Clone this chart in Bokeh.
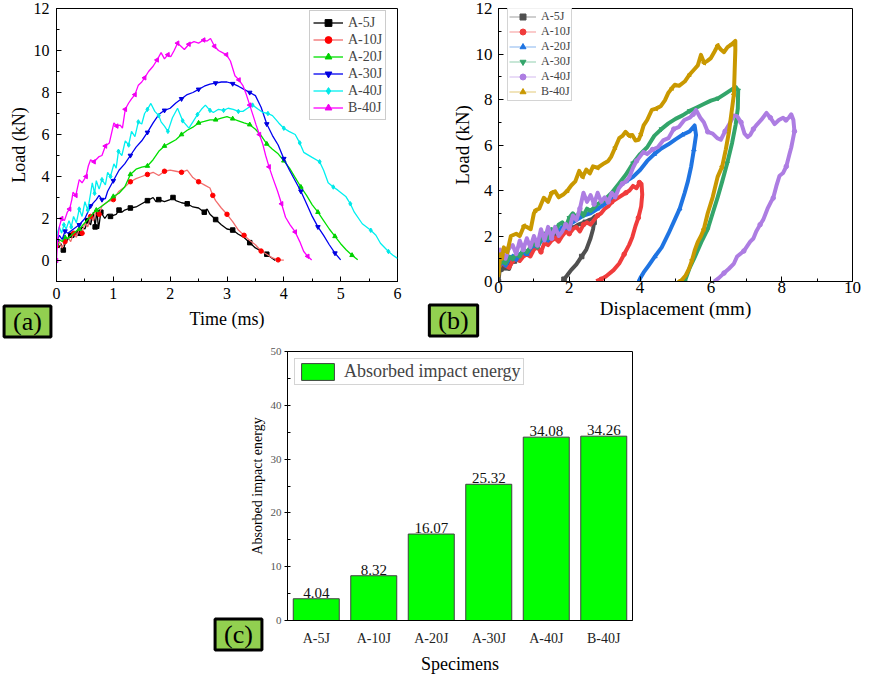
from bokeh.plotting import figure
from bokeh.models import Legend, LegendItem, Label, SingleIntervalTicker, FactorRange, Spacer
from bokeh.layouts import row, column
from bokeh.embed import file_html
from bokeh.resources import INLINE
from math import pi

FONT = "Liberation Serif"
TAG_FILL = "#92D050"

# ---- (a) load vs time ----
names = ["A-5J", "A-10J", "A-20J", "A-30J", "A-40J", "B-40J"]

time_5j = [0.0, 0.04, 0.08, 0.12, 0.16, 0.2, 0.25, 0.3, 0.35, 0.4,
           0.45, 0.5, 0.55, 0.6, 0.65, 0.68, 0.71, 0.74, 0.78, 0.85,
           0.9, 0.95, 1.0, 1.05, 1.1, 1.15, 1.2, 1.3, 1.4, 1.5,
           1.6, 1.7, 1.75, 1.8, 1.9, 2.0, 2.05, 2.1, 2.2, 2.3,
           2.4, 2.5, 2.6, 2.65, 2.7, 2.8, 2.9, 3.0, 3.1, 3.2,
           3.3, 3.4, 3.5, 3.6, 3.7, 3.8, 3.85]
load_5j = [0.9, 0.6, 0.8, 0.5, 0.9, 1.0, 1.2, 1.1, 1.4, 1.3,
           1.6, 1.5, 1.9, 1.7, 2.3, 1.6, 2.4, 1.5, 2.3, 2.0,
           2.2, 2.1, 2.15, 2.2, 2.4, 2.3, 2.4, 2.5, 2.55, 2.7,
           2.85, 3.0, 2.8, 2.9, 2.8, 2.9, 3.0, 2.85, 2.75, 2.7,
           2.55, 2.5, 2.3, 2.45, 2.2, 1.95, 1.7, 1.5, 1.45, 1.25,
           1.1, 0.85, 0.6, 0.45, 0.3, 0.1, 0.0]

time_10j = [0.0, 0.05, 0.1, 0.15, 0.2, 0.25, 0.3, 0.35, 0.4, 0.45,
            0.5, 0.55, 0.6, 0.65, 0.7, 0.75, 0.8, 0.9, 1.0, 1.1,
            1.2, 1.3, 1.4, 1.5, 1.6, 1.7, 1.8, 1.9, 2.0, 2.1,
            2.2, 2.3, 2.4, 2.5, 2.6, 2.7, 2.75, 2.8, 2.9, 3.0,
            3.1, 3.2, 3.3, 3.4, 3.5, 3.6, 3.7, 3.8, 3.9, 4.0]
load_10j = [0.7, 0.9, 0.6, 0.9, 1.1, 0.9, 1.3, 1.1, 1.5, 1.3,
            1.8, 1.6, 2.1, 1.9, 2.4, 2.2, 2.6, 2.8, 2.9, 3.3,
            3.5, 3.75, 3.9, 4.0, 4.1, 4.2, 4.05, 4.25, 4.3, 4.25,
            4.2, 4.3, 3.95, 3.75, 3.6, 3.45, 3.1, 2.85, 2.5, 2.2,
            1.85, 1.45, 1.2, 0.95, 0.75, 0.45, 0.3, 0.12, 0.03, 0.02]

time_20j = [0.0, 0.05, 0.1, 0.15, 0.2, 0.3, 0.4, 0.5, 0.6, 0.7,
            0.8, 0.9, 1.0, 1.1, 1.2, 1.3, 1.4, 1.5, 1.6, 1.7,
            1.8, 1.9, 2.0, 2.1, 2.2, 2.3, 2.4, 2.5, 2.6, 2.7,
            2.8, 2.9, 3.0, 3.1, 3.2, 3.3, 3.4, 3.5, 3.6, 3.7,
            3.8, 3.9, 4.0, 4.1, 4.2, 4.3, 4.4, 4.5, 4.6, 4.7,
            4.8, 4.9, 5.0, 5.1, 5.2, 5.3]
load_20j = [0.8, 1.0, 0.9, 1.1, 1.05, 1.3, 1.5, 1.8, 2.1, 2.4,
            2.6, 2.8, 3.05, 3.2, 3.5, 4.1, 4.35, 4.45, 4.5, 4.8,
            5.2, 5.45, 5.6, 5.75, 6.0, 6.2, 6.35, 6.55, 6.62, 6.7,
            6.7, 6.78, 6.85, 6.75, 6.65, 6.55, 6.47, 6.25, 5.95, 5.55,
            5.3, 5.08, 4.75, 4.4, 3.95, 3.5, 3.1, 2.65, 2.3, 1.9,
            1.5, 1.15, 0.8, 0.5, 0.25, 0.03]

time_30j = [0.0, 0.05, 0.1, 0.15, 0.2, 0.3, 0.4, 0.5, 0.55, 0.6,
            0.7, 0.75, 0.8, 0.86, 0.9, 1.0, 1.1, 1.2, 1.3, 1.4,
            1.5, 1.6, 1.7, 1.8, 1.9, 2.0, 2.1, 2.2, 2.3, 2.4,
            2.5, 2.6, 2.7, 2.8, 2.9, 3.0, 3.1, 3.2, 3.3, 3.4,
            3.5, 3.6, 3.7, 3.8, 3.9, 4.0, 4.1, 4.2, 4.3, 4.4,
            4.5, 4.6, 4.7, 4.8, 4.9, 5.0]
load_30j = [0.9, 1.2, 1.0, 1.4, 1.3, 1.5, 1.7, 2.0, 2.3, 2.6,
            2.9, 3.1, 2.9, 2.95, 3.3, 3.8, 4.3, 4.6, 5.0, 5.4,
            5.7, 6.1, 6.55, 6.95, 7.15, 7.25, 7.5, 7.7, 7.9, 8.0,
            8.15, 8.3, 8.4, 8.45, 8.5, 8.5, 8.42, 8.3, 8.15, 8.0,
            7.85, 7.3, 6.5, 5.95, 5.5, 4.85, 4.3, 3.8, 3.3, 2.7,
            2.1, 1.6, 1.2, 0.75, 0.35, 0.03]

time_40j = [0.0, 0.05, 0.09, 0.13, 0.17, 0.22, 0.26, 0.3, 0.35, 0.4,
            0.45, 0.5, 0.55, 0.6, 0.63, 0.67, 0.7, 0.75, 0.8, 0.86,
            0.9, 0.95, 1.01, 1.05, 1.09, 1.15, 1.21, 1.27, 1.32, 1.38,
            1.44, 1.5, 1.55, 1.6, 1.66, 1.73, 1.8, 1.84, 1.9, 1.96,
            2.04, 2.13, 2.22, 2.33, 2.4, 2.48, 2.55, 2.62, 2.7, 2.76,
            2.85, 2.94, 3.02, 3.11, 3.2, 3.28, 3.36, 3.45, 3.55, 3.63,
            3.72, 3.8, 3.91, 4.0, 4.09, 4.2, 4.28, 4.35, 4.49, 4.63,
            4.7, 4.78, 4.87, 4.95, 5.09, 5.17, 5.24, 5.38, 5.53, 5.62,
            5.7, 5.84, 5.92, 6.0]
load_40j = [1.2, 1.6, 1.3, 1.7, 1.5, 1.9, 1.6, 2.1, 1.8, 2.45,
            2.1, 2.8, 2.4, 3.2, 3.7, 3.2, 3.8, 3.4, 3.85, 3.6,
            4.2, 4.0, 4.6, 4.4, 5.2, 5.0, 5.7, 5.5, 6.15, 5.9,
            6.6, 6.5, 7.0, 7.2, 7.48, 7.1, 6.9, 6.6, 6.4, 6.15,
            6.8, 7.25, 6.65, 6.3, 6.6, 6.95, 7.2, 7.4, 7.15, 7.05,
            7.2, 7.15, 7.25, 7.2, 7.1, 7.1, 7.25, 7.4, 7.2, 7.05,
            7.0, 6.9, 6.55, 6.3, 6.15, 6.0, 5.6, 5.15, 4.92, 4.7,
            4.3, 3.7, 3.5, 3.35, 3.05, 2.7, 2.3, 1.75, 1.44, 1.2,
            0.82, 0.43, 0.25, 0.1]

time_b40j = [0.0, 0.02, 0.05, 0.09, 0.14, 0.19, 0.23, 0.27, 0.29, 0.34,
             0.4, 0.45, 0.52, 0.56, 0.6, 0.66, 0.75, 0.8, 0.86, 0.93,
             1.01, 1.06, 1.12, 1.16, 1.21, 1.27, 1.32, 1.38, 1.44, 1.5,
             1.55, 1.62, 1.7, 1.77, 1.84, 1.9, 1.96, 2.01, 2.07, 2.13,
             2.19, 2.25, 2.33, 2.42, 2.5, 2.59, 2.65, 2.71, 2.78, 2.85,
             2.92, 2.99, 3.06, 3.14, 3.21, 3.28, 3.34, 3.4, 3.46, 3.51,
             3.57, 3.63, 3.68, 3.74, 3.81, 3.89, 3.96, 4.03, 4.11, 4.2,
             4.28, 4.35, 4.42, 4.49]
load_b40j = [0.0, 1.0, 1.6, 2.0, 1.9, 2.3, 2.45, 2.9, 3.25, 3.1,
             3.85, 3.7, 4.0, 4.5, 4.8, 4.7, 4.95, 5.0, 5.45, 5.6,
             6.55, 6.4, 6.45, 6.3, 7.2, 7.5, 7.7, 7.9, 8.35, 8.5,
             8.7, 9.0, 9.25, 9.55, 9.9, 9.6, 9.8, 9.7, 10.0, 10.35,
             10.2, 10.05, 10.3, 10.42, 10.35, 10.5, 10.45, 10.57, 10.2, 10.0,
             9.9, 9.8, 9.5, 8.8, 8.6, 8.33, 7.9, 7.4, 6.9, 6.47,
             6.0, 5.54, 5.0, 4.46, 3.9, 3.3, 2.7, 2.06, 1.7, 1.36,
             0.9, 0.43, 0.2, 0.02]

# ---- (b) load vs displacement ----
disp_5j = [0.0, 0.05, 0.1, 0.15, 0.2, 0.25, 0.3, 0.35, 0.45, 0.55,
           0.65, 0.75, 0.85, 0.95, 1.05, 1.15, 1.25, 1.35, 1.45, 1.55,
           1.65, 1.75, 1.85, 1.95, 2.05, 2.15, 2.25, 2.35, 2.45, 2.55,
           2.65, 2.72, 2.7, 2.67, 2.6, 2.48, 2.35, 2.2, 2.05, 1.93,
           1.85, 1.82]
force_5j = [0.0, 0.8, 0.5, 0.9, 0.6, 0.9, 0.55, 0.8, 0.9, 1.1,
            1.2, 1.3, 1.25, 1.5, 1.6, 1.7, 1.9, 1.8, 2.0, 2.1,
            2.0, 2.2, 2.3, 2.2, 2.35, 2.4, 2.5, 2.55, 2.6, 2.7,
            2.75, 2.86, 2.6, 2.3, 1.9, 1.4, 1.1, 0.75, 0.5, 0.25,
            0.1, 0.0]

disp_10j = [0.0, 0.1, 0.2, 0.3, 0.4, 0.5, 0.6, 0.7, 0.8, 0.9,
            1.0, 1.1, 1.2, 1.3, 1.4, 1.5, 1.6, 1.7, 1.8, 1.9,
            2.0, 2.1, 2.2, 2.3, 2.4, 2.5, 2.6, 2.7, 2.8, 2.9,
            3.0, 3.1, 3.2, 3.3, 3.4, 3.5, 3.6, 3.7, 3.8, 3.9,
            3.98, 4.04, 4.06, 4.03, 3.95, 3.87, 3.78, 3.69, 3.55, 3.41,
            3.25, 3.04, 2.9, 2.76]
force_10j = [0.6, 0.8, 0.7, 0.6, 0.9, 1.0, 0.9, 1.1, 1.2, 1.1,
             1.4, 1.5, 1.3, 1.7, 1.6, 1.8, 1.9, 1.75, 2.0, 2.2,
             2.1, 2.3, 2.4, 2.2, 2.5, 2.6, 2.5, 2.7, 2.9, 3.0,
             3.2, 3.3, 3.5, 3.6, 3.7, 3.8, 3.9, 4.0, 4.2, 4.1,
             4.35, 4.3, 3.82, 3.3, 2.8, 2.44, 1.95, 1.61, 1.2, 0.79,
             0.5, 0.23, 0.1, 0.02]

disp_20j = [0.0, 0.1, 0.2, 0.3, 0.4, 0.5, 0.6, 0.7, 0.8, 0.9,
            1.0, 1.1, 1.2, 1.3, 1.4, 1.5, 1.6, 1.7, 1.8, 1.9,
            2.0, 2.2, 2.4, 2.6, 2.8, 3.0, 3.2, 3.4, 3.6, 3.8,
            4.0, 4.2, 4.4, 4.6, 4.8, 5.0, 5.2, 5.4, 5.54, 5.58,
            5.52, 5.44, 5.35, 5.26, 5.12, 4.98, 4.8, 4.61, 4.42, 4.24,
            4.1, 4.01, 3.96]
force_20j = [0.6, 0.9, 0.7, 1.0, 1.1, 0.95, 1.2, 1.3, 1.2, 1.45,
             1.6, 1.5, 1.8, 1.9, 1.8, 2.1, 2.3, 2.2, 2.4, 2.35,
             2.5, 2.7, 2.9, 3.0, 3.2, 3.4, 3.7, 4.2, 4.4, 4.6,
             4.9, 5.3, 5.6, 5.85, 6.03, 6.25, 6.45, 6.6, 6.86, 6.44,
             5.8, 5.04, 4.4, 3.9, 3.2, 2.72, 2.1, 1.5, 1.1, 0.7,
             0.4, 0.16, 0.0]

disp_30j = [0.0, 0.1, 0.2, 0.3, 0.4, 0.5, 0.6, 0.7, 0.8, 0.9,
            1.0, 1.1, 1.2, 1.3, 1.4, 1.5, 1.6, 1.7, 1.8, 1.9,
            2.0, 2.1, 2.2, 2.3, 2.4, 2.5, 2.6, 2.8, 3.0, 3.2,
            3.4, 3.6, 3.8, 4.0, 4.2, 4.4, 4.6, 4.8, 5.0, 5.2,
            5.4, 5.6, 5.8, 6.0, 6.2, 6.4, 6.55, 6.7, 6.77, 6.76,
            6.7, 6.6, 6.46, 6.32, 6.19, 6.05, 5.91, 5.75, 5.54, 5.4,
            5.26]
force_30j = [0.7, 0.9, 0.8, 1.1, 1.0, 1.2, 1.1, 1.4, 1.3, 1.5,
             1.7, 1.5, 1.9, 2.1, 1.9, 2.3, 2.2, 2.5, 2.6, 2.4,
             2.8, 3.0, 2.8, 3.1, 2.9, 3.2, 3.1, 3.4, 3.6, 3.9,
             4.3, 4.7, 5.2, 5.6, 5.9, 6.4, 6.7, 6.95, 7.15, 7.3,
             7.5, 7.65, 7.8, 7.95, 8.05, 8.25, 8.4, 8.55, 8.4, 7.6,
             6.9, 6.1, 5.2, 4.4, 3.7, 3.0, 2.3, 1.8, 1.06, 0.6,
             0.0]

disp_40j = [0.0, 0.05, 0.1, 0.2, 0.3, 0.4, 0.5, 0.6, 0.7, 0.8,
            0.9, 1.0, 1.1, 1.2, 1.3, 1.4, 1.5, 1.6, 1.7, 1.8,
            1.9, 2.0, 2.1, 2.2, 2.3, 2.4, 2.5, 2.6, 2.7, 2.8,
            2.9, 3.0, 3.1, 3.2, 3.3, 3.4, 3.5, 3.6, 3.7, 3.8,
            3.9, 4.0, 4.1, 4.2, 4.35, 4.5, 4.65, 4.8, 4.95, 5.1,
            5.25, 5.4, 5.5, 5.58, 5.7, 5.8, 5.91, 6.05, 6.18, 6.28,
            6.4, 6.55, 6.65, 6.74, 6.85, 6.95, 7.04, 7.11, 7.2, 7.3,
            7.42, 7.57, 7.68, 7.8, 7.92, 8.04, 8.12, 8.2, 8.27, 8.33,
            8.36, 8.32, 8.27, 8.22, 8.13, 8.04, 7.94, 7.85, 7.76, 7.71,
            7.6, 7.48, 7.39, 7.28, 7.2, 7.11, 6.93, 6.74, 6.65, 6.5,
            6.37, 6.22, 6.09]
force_40j = [1.1, 1.4, 1.2, 1.0, 1.5, 1.6, 1.2, 1.8, 1.4, 1.9,
             1.5, 2.0, 1.6, 2.3, 1.8, 2.4, 1.9, 2.4, 2.0, 2.2,
             2.5, 2.3, 2.9, 2.7, 3.2, 3.9, 3.5, 3.8, 3.4, 3.9,
             3.5, 3.7, 3.5, 3.9, 3.7, 4.1, 4.3, 4.4, 4.6, 5.0,
             5.3, 5.5, 5.7, 5.6, 5.8, 5.9, 6.2, 6.3, 6.7, 6.8,
             7.1, 7.2, 7.35, 7.54, 7.2, 7.0, 6.58, 6.5, 6.3, 6.23,
             6.6, 7.0, 7.3, 7.27, 7.0, 6.5, 6.35, 6.44, 6.7, 6.9,
             7.1, 7.41, 7.2, 6.92, 7.1, 7.2, 7.1, 7.2, 7.35, 7.1,
             6.6, 6.28, 5.89, 5.6, 5.06, 4.77, 4.65, 4.2, 3.67, 3.54,
             3.2, 2.72, 2.5, 2.2, 1.89, 1.75, 1.34, 1.1, 0.79, 0.55,
             0.37, 0.15, 0.0]

disp_b40j = [0.0, 0.05, 0.1, 0.15, 0.25, 0.35, 0.5, 0.6, 0.72, 0.8,
             0.91, 1.0, 1.05, 1.15, 1.28, 1.4, 1.5, 1.6, 1.7, 1.83,
             1.95, 2.06, 2.17, 2.28, 2.38, 2.48, 2.58, 2.67, 2.8, 2.99,
             3.1, 3.18, 3.3, 3.41, 3.5, 3.59, 3.7, 3.78, 3.87, 3.96,
             4.03, 4.1, 4.2, 4.33, 4.45, 4.58, 4.7, 4.8, 4.9, 4.98,
             5.1, 5.26, 5.4, 5.54, 5.63, 5.72, 5.81, 5.9, 6.0, 6.1,
             6.19, 6.28, 6.37, 6.47, 6.6, 6.69, 6.69, 6.67, 6.65, 6.58,
             6.51, 6.42, 6.32, 6.19, 6.05, 5.91, 5.8, 5.72, 5.63, 5.55,
             5.47, 5.38, 5.28, 5.17, 5.1]
force_b40j = [0.3, 1.2, 1.0, 1.5, 1.3, 2.0, 2.1, 2.0, 2.44, 2.4,
              2.3, 3.0, 3.13, 3.2, 3.68, 3.5, 3.9, 3.96, 3.7, 3.82,
              4.0, 4.23, 4.4, 4.86, 4.6, 4.92, 4.75, 5.06, 5.0, 5.2,
              5.3, 5.48, 5.9, 6.3, 6.4, 6.58, 6.4, 6.44, 6.2, 6.23,
              6.5, 6.86, 7.1, 7.54, 7.6, 7.7, 7.96, 8.3, 8.5, 8.65,
              8.6, 8.79, 9.1, 9.34, 9.5, 9.96, 9.61, 9.7, 9.82, 10.1,
              10.37, 10.2, 10.08, 10.3, 10.44, 10.58, 10.17, 9.2, 8.23, 7.4,
              6.58, 5.8, 5.06, 4.6, 3.7, 3.0, 2.3, 2.0, 1.74, 1.4,
              0.95, 0.55, 0.25, 0.05, 0.0]

# ---- (c) absorbed energy ----
specimens = ["A-5J", "A-10J", "A-20J", "A-30J", "A-40J", "B-40J"]
absorbed_energy = [4.04, 8.32, 16.07, 25.32, 34.08, 34.26]

# panel tags
tag_texts = ["(a)", "(b)", "(c)"]

# styles
line_colors_a = ["black", "#F26D6D", "#00E000", "#0000F0", "#00F0F0", "#FF00FF"]
marker_colors_a = ["black", "#FF0000", "#00D000", "#0000E0", "#00E8E8", "#F000F0"]
colors_b = ["#505050", "#F03C3C", "#1F74E2", "#33A56A", "#AD7DE2", "#C99800"]
markers = ["square", "circle", "triangle", "inverted_triangle", "diamond", "triangle"]
markers_b = ["square", "circle", "triangle", "inverted_triangle", "circle", "triangle"]
angles = [0, 0, 0, 0, 0, pi / 2]

PAGE_W, PAGE_H = 864, 676


def style_axes(p, tick_px, label_px):
    p.xgrid.visible = False
    p.ygrid.visible = False
    p.outline_line_color = "black"
    p.outline_line_width = 1
    p.axis.axis_line_color = "black"
    p.axis.major_tick_in = 5
    p.axis.major_tick_out = 0
    p.axis.minor_tick_in = 3
    p.axis.minor_tick_out = 0
    p.axis.major_label_text_font = FONT
    p.axis.major_label_text_font_size = tick_px
    p.axis.major_label_text_color = "black"
    p.axis.axis_label_text_font = FONT
    p.axis.axis_label_text_font_size = label_px
    p.axis.axis_label_text_font_style = "normal"
    p.axis.axis_label_text_color = "black"


def make_time_plot():
    p = figure(width=422, height=335, x_range=(0, 6), y_range=(-1, 12),
               x_axis_label="Time (ms)", y_axis_label="Load (kN)",
               min_border_left=56, min_border_right=25, min_border_top=7, min_border_bottom=54,
               output_backend="svg", toolbar_location=None)
    style_axes(p, "16px", "18px")
    p.xaxis.ticker = SingleIntervalTicker(interval=1, num_minor_ticks=2)
    p.yaxis.ticker = SingleIntervalTicker(interval=2, num_minor_ticks=2)
    p.xaxis.major_label_standoff = 6
    p.xaxis.axis_label_standoff = 7
    p.yaxis.major_label_standoff = 7
    p.yaxis.axis_label_standoff = 2

    curves = [(time_5j, load_5j), (time_10j, load_10j), (time_20j, load_20j),
              (time_30j, load_30j), (time_40j, load_40j), (time_b40j, load_b40j)]
    items = []
    for i, (t, f) in enumerate(curves):
        ln = p.line(t, f, line_color=line_colors_a[i], line_width=1.3)
        mk = p.scatter(t[::3], f[::3], marker=markers[i], angle=angles[i], size=4.5,
                       fill_color=marker_colors_a[i], line_color=marker_colors_a[i])
        items.append(LegendItem(label=names[i], renderers=[ln, mk]))

    legend = Legend(items=items, location=(253, 161), margin=0, padding=3, spacing=0,
                    glyph_width=30, glyph_height=17, label_height=17, label_standoff=5,
                    label_text_font=FONT, label_text_font_size="14px",
                    border_line_color="#999999", border_line_width=1)
    p.add_layout(legend)
    return p


def make_disp_plot():
    p = figure(width=442, height=335, x_range=(0, 10), y_range=(0, 12),
               x_axis_label="Displacement (mm)", y_axis_label="Load (kN)",
               min_border_left=76, min_border_right=12, min_border_top=8, min_border_bottom=43,
               output_backend="svg", toolbar_location=None)
    style_axes(p, "17px", "19px")
    p.xaxis.ticker = SingleIntervalTicker(interval=2, num_minor_ticks=2)
    p.yaxis.ticker = SingleIntervalTicker(interval=2, num_minor_ticks=2)
    p.xaxis.major_label_standoff = 0
    p.xaxis.axis_label_standoff = 2
    p.yaxis.major_label_standoff = 6
    p.yaxis.axis_label_standoff = 0

    curves = [(disp_5j, force_5j), (disp_10j, force_10j), (disp_20j, force_20j),
              (disp_30j, force_30j), (disp_40j, force_40j), (disp_b40j, force_b40j)]
    items = []
    for i, (d, f) in enumerate(curves):
        # thin line and markers sit under the thick trace; they give the legend its look
        thin = p.line(d, f, line_color=colors_b[i], line_alpha=0.45, line_width=1.2)
        mk = p.scatter(d[::4], f[::4], marker=markers_b[i], angle=angles[i], size=4.5,
                       fill_color=colors_b[i], line_color=colors_b[i])
        p.line(d, f, line_color=colors_b[i], line_width=4, line_join="round")
        items.append(LegendItem(label=names[i], renderers=[thin, mk]))

    legend = Legend(items=items, location=(9, 180), margin=0, padding=1, spacing=0,
                    glyph_width=27, glyph_height=15, label_height=15, label_standoff=5,
                    label_text_font=FONT, label_text_font_size="12px",
                    border_line_color="#aaaaaa", border_line_width=1)
    p.add_layout(legend)
    return p


def make_energy_plot():
    p = figure(width=460, height=341, x_range=FactorRange(*specimens), y_range=(0, 50),
               x_axis_label="Specimens", y_axis_label="Absorbed impact energy",
               min_border_left=87, min_border_right=28, min_border_top=16, min_border_bottom=49,
               output_backend="svg", toolbar_location=None)
    p.xgrid.visible = False
    p.ygrid.visible = False
    p.outline_line_color = "black"
    p.axis.axis_line_color = "black"
    p.axis.axis_label_text_font = FONT
    p.axis.axis_label_text_font_style = "normal"
    p.axis.axis_label_text_color = "black"
    p.axis.major_label_text_font = FONT

    p.yaxis.ticker = SingleIntervalTicker(interval=10, num_minor_ticks=2)
    p.yaxis.major_tick_out = 3
    p.yaxis.major_tick_in = 0
    p.yaxis.minor_tick_in = 3
    p.yaxis.minor_tick_out = 0
    p.yaxis.major_label_text_font_size = "11px"
    p.yaxis.major_label_text_color = "#555555"
    p.yaxis.major_label_standoff = 3
    p.yaxis.axis_label_text_font_size = "14px"
    p.yaxis.axis_label_standoff = 3

    p.xaxis.major_tick_line_color = None
    p.xaxis.major_label_text_font_size = "14px"
    p.xaxis.major_label_text_color = "#222222"
    p.xaxis.major_label_standoff = 4
    p.xaxis.axis_label_text_font_size = "18px"
    p.xaxis.axis_label_standoff = 5

    p.vbar(x=specimens, top=absorbed_energy, width=0.8, fill_color="#00FF00",
           line_color="#404040", line_width=1, legend_label="Absorbed impact energy")
    p.text(x=specimens, y=absorbed_energy, text=[f"{v:.2f}" for v in absorbed_energy],
           text_align="center", text_baseline="bottom", y_offset=-1,
           text_font=FONT, text_font_size="15px", text_color="#111111")

    p.legend.location = "top_left"
    p.legend.margin = 7
    p.legend.padding = 2
    p.legend.glyph_width = 41
    p.legend.glyph_height = 21
    p.legend.label_height = 21
    p.legend.label_standoff = 6
    p.legend.label_text_font = FONT
    p.legend.label_text_font_size = "18px"
    p.legend.border_line_color = "#aaaaaa"
    return p


def make_tag_overlay():
    # transparent sheet over the whole page; pixel coordinates, y downwards
    p = figure(width=PAGE_W, height=PAGE_H, x_range=(0, PAGE_W), y_range=(PAGE_H, 0),
               x_axis_type=None, y_axis_type=None, min_border=0,
               output_backend="svg", toolbar_location=None)
    p.grid.visible = False
    p.outline_line_color = None
    p.background_fill_alpha = 0
    p.border_fill_alpha = 0
    spots = [(27, 321), (453, 320), (238, 634)]
    for text, (x, y) in zip(tag_texts, spots):
        p.add_layout(Label(x=x, y=y, text=text, text_font=FONT, text_font_size="26px",
                           text_align="center", text_baseline="middle", text_color="black",
                           background_fill_color=TAG_FILL, border_line_color="black",
                           border_line_width=3,
                           padding=dict(left=9, right=9, top=1, bottom=1)))
    p.margin = (-PAGE_H, 0, 0, 0)
    return p


fig_a = make_time_plot()
fig_b = make_disp_plot()
fig_c = make_energy_plot()
tags = make_tag_overlay()

page = column(row(fig_a, fig_b), row(Spacer(width=200, height=341), fig_c), tags)

open("out.html", "w").write(file_html(page, INLINE))
